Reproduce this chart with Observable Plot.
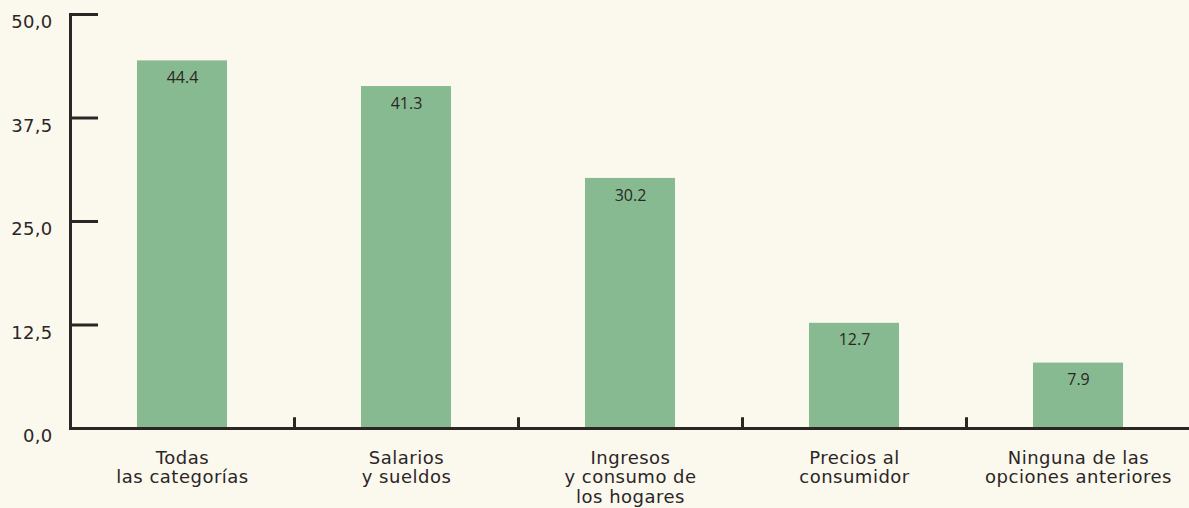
<!DOCTYPE html>
<html>
<head>
<meta charset="utf-8">
<script src="https://cdn.jsdelivr.net/npm/d3@7"></script>
<script src="https://cdn.jsdelivr.net/npm/@observablehq/plot@0.6"></script>
<style>
  html, body { margin: 0; padding: 0; background: #FBF8EE; }
  #chart svg { display: block; }
  #chart svg g[aria-label="x-axis tick label"] text { letter-spacing: 0.5px; }
  #chart svg g[aria-label="y-axis tick label"] text { letter-spacing: 0.3px; }
</style>
</head>
<body>
<div id="chart"></div>
<script>
const categories = [
  "Todas\nlas categorías",
  "Salarios\ny sueldos",
  "Ingresos\ny consumo de\nlos hogares",
  "Precios al\nconsumidor",
  "Ninguna de las\nopciones anteriores"
];
const values = [44.4, 41.3, 30.2, 12.7, 7.9];
const yTicks = [0, 12.5, 25, 37.5, 50];

const data = categories.map((c, i) => ({category: c, value: values[i]}));

const W = 1189, H = 508, mL = 70, mR = -1, mT = 14, mB = 80;
const step = (W - mL - mR) / categories.length;
const ink = "#2B2626";
const labelFont = "'DejaVu Sans', sans-serif";
const valueFont = "'Open Sans', sans-serif";

const chart = Plot.plot({
  width: W,
  height: H,
  marginLeft: mL,
  marginRight: mR,
  marginTop: mT,
  marginBottom: mB,
  style: {background: "#FBF8EE", fontFamily: labelFont, color: ink, overflow: "visible"},
  x: {domain: categories, paddingInner: 0.6, paddingOuter: 0.3, align: 0.5, label: null},
  y: {domain: [0, 50], label: null},
  marks: [
    Plot.barY(data, {x: "category", y: "value", fill: "#88BA91"}),
    Plot.text(data, {x: "category", y: "value", text: d => d.value.toFixed(1), dy: 17, fontSize: 16, fill: ink, fontFamily: valueFont}),
    Plot.axisY(yTicks, {tickSize: 0, tickPadding: 18, tickFormat: d => d3.format(".1f")(d).replace(".", ","), fontSize: 18, dy: 8, fill: ink, fontFamily: labelFont, label: null}),
    Plot.tickY(yTicks, {y: d => d, stroke: ink, strokeWidth: 3, render: (index, scales, values, dims, ctx, next) => {
      const g = next(index, scales, values, dims, ctx);
      d3.select(g).selectAll("line").attr("x1", dims.marginLeft).attr("x2", dims.marginLeft + 28);
      return g;
    }}),
    Plot.axisX({tickSize: 0, tickPadding: 21, fontSize: 18, lineHeight: 1.1, fill: ink, fontFamily: labelFont, label: null}),
    Plot.ruleX(categories.slice(1), {x: d => d, dx: -step / 2, y1: 0, y2: 1.3, stroke: ink, strokeWidth: 3}),
    Plot.frame({anchor: "left", stroke: ink, strokeWidth: 3}),
    Plot.frame({anchor: "bottom", stroke: ink, strokeWidth: 3})
  ]
});
document.getElementById("chart").appendChild(chart);
</script>
</body>
</html>
